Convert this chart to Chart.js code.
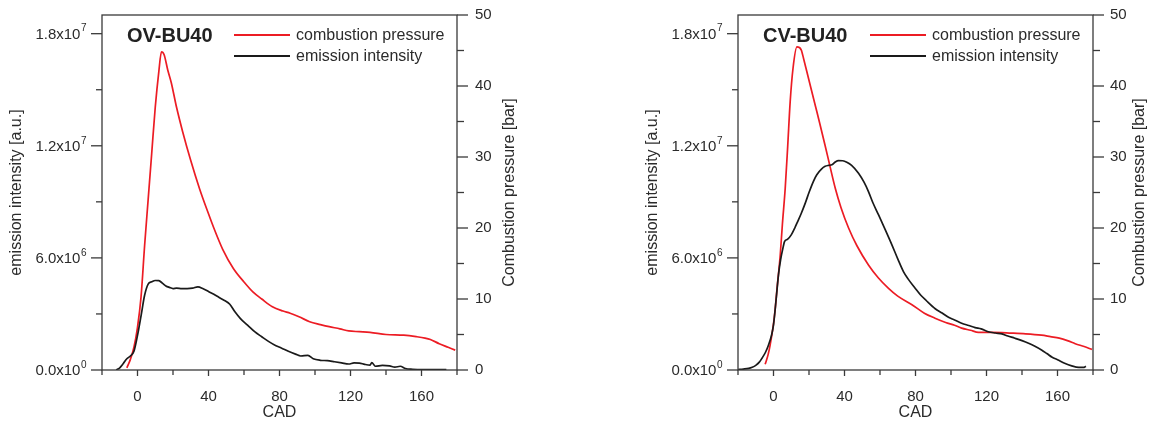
<!DOCTYPE html>
<html><head><meta charset="utf-8">
<script src="https://cdn.jsdelivr.net/npm/chart.js@4.4.1/dist/chart.umd.min.js"></script>
<style>
html,body{margin:0;padding:0;background:#fff;}
#wrap{position:relative;width:1156px;height:421px;overflow:hidden;background:#fff;}
#c1{position:absolute;left:0;top:0;}
#c2{position:absolute;left:636px;top:0;}
</style></head><body>
<div id="wrap"><canvas id="c1" width="578" height="421"></canvas><canvas id="c2" width="520" height="421"></canvas></div>
<script>
// ---------- data ----------
const chartTitles = ['OV-BU40', 'CV-BU40'];
const seriesNames = ['combustion pressure', 'emission intensity'];
const xTickValues = [-20, 0, 20, 40, 60, 80, 100, 120, 140, 160, 180];
const xLabelTicks = [0, 40, 80, 120, 160];
const leftTickValues = [0, 3e6, 6e6, 9e6, 1.2e7, 1.5e7, 1.8e7];
const leftLabelTicks = [0, 6e6, 1.2e7, 1.8e7];
const rightTickValues = [0, 5, 10, 15, 20, 25, 30, 35, 40, 45, 50];
const rightLabelTicks = [0, 10, 20, 30, 40, 50];

// OV-BU40 combustion pressure [bar]
const ovPressureCad = [-6,-4,-2,0,2,4,6,8,10,12,13.5,15,17,19,22,25.4,30,35,40,43,48,54,60,65,70,76,82,86,91,97,103,108,114,119,125,131,140,150,157,162,165,170,175,179];
const ovPressureBar = [0.3,1.5,3.2,6.0,10.3,17.5,24,30.5,37,42,44.8,44.4,42.3,40.5,37,33.6,29.5,25.5,22,20,17,14.3,12.4,11.0,10.0,8.9,8.3,8.0,7.5,6.8,6.4,6.1,5.8,5.5,5.4,5.3,5.0,4.9,4.7,4.5,4.3,3.7,3.2,2.8];
// OV-BU40 emission intensity [a.u.]
const ovEmissionCad = [-12,-10,-8,-6,-4,-2,0,2,4,6,8,10,12,14,16,18,20,22,25,28,31,34,37,40,43,46,49,52,55,58,62,66,70,74,78,81,85,89,92,96,99,103,107,111,115,119,122,125,128,131,132,134,138,142,145,148,151,155,160,174];
const ovEmission = [0,1.2e5,3.5e5,6.0e5,7.5e5,1.0e6,1.85e6,2.9e6,4.0e6,4.6e6,4.72e6,4.79e6,4.78e6,4.65e6,4.5e6,4.42e6,4.36e6,4.38e6,4.36e6,4.36e6,4.38e6,4.45e6,4.35e6,4.2e6,4.05e6,3.88e6,3.72e6,3.52e6,3.1e6,2.75e6,2.4e6,2.05e6,1.78e6,1.52e6,1.3e6,1.18e6,1.0e6,8.5e5,7.5e5,7.8e5,6.0e5,5.2e5,5.0e5,4.4e5,3.8e5,3.2e5,3.8e5,3.7e5,3.0e5,2.6e5,4.0e5,2.0e5,2.5e5,2.2e5,1.5e5,2.0e5,8e4,4e4,2e4,2e4];

// CV-BU40 combustion pressure [bar]
const cvPressureCad = [-4.7,-3,-1.9,0,1,2,3.8,5,6.6,8,9.4,11,13.2,15.6,17,18.8,21,23.5,26,29,32,34.8,38,42.3,47,53.5,59,64.8,70,78,85,91,97,102,106,111,115.5,123,134,142,151,156,161,166,170,175,179.4];
const cvPressureBar = [0.8,2.2,3.5,6.5,8.7,11.5,16.2,20.5,25.6,31.5,37.8,42.5,45.5,45.1,43.8,42,39.8,37.3,34.8,31.7,28.5,25.6,22.9,20,17.5,14.8,13,11.5,10.4,9.2,8.0,7.3,6.7,6.3,5.9,5.6,5.3,5.3,5.2,5.1,4.9,4.7,4.5,4.1,3.7,3.3,2.9];
// CV-BU40 emission intensity [a.u.]
const cvEmissionCad = [-20,-17,-14,-12,-10,-8,-6.5,-4.5,-2.8,-1,0,1.5,2.8,4,5.5,6.2,8,10,12,13.2,15.5,17.9,20,22.5,24.4,27,29.1,31,32.9,35,36.6,39,41.3,44,47.9,51,53.5,56,59.2,63,66.7,70,73.2,76,79.8,83,86,91.1,95,98.6,102,106,110,113.6,117,121,125,128.7,132,136,140,143.7,147,151,154,157,160,164,168,172,175,176];
const cvEmission = [2e4,5e4,9e4,1.5e5,2.5e5,4.2e5,6.3e5,9.5e5,1.34e6,1.9e6,2.41e6,3.8e6,5.09e6,5.9e6,6.6e6,6.87e6,7.0e6,7.23e6,7.6e6,7.86e6,8.35e6,8.93e6,9.5e6,1.01e7,1.045e7,1.075e7,1.09e7,1.095e7,1.098e7,1.115e7,1.121e7,1.12e7,1.112e7,1.095e7,1.053e7,1.005e7,9.55e6,8.95e6,8.3e6,7.5e6,6.7e6,5.95e6,5.27e6,4.85e6,4.38e6,4.0e6,3.72e6,3.28e6,3.05e6,2.82e6,2.68e6,2.5e6,2.38e6,2.27e6,2.2e6,2.05e6,1.98e6,1.93e6,1.82e6,1.7e6,1.57e6,1.43e6,1.28e6,1.07e6,8.8e5,6.8e5,5.5e5,3.6e5,2.2e5,1.4e5,1.4e5,2.0e5];

// ---------- styling ----------
const FONT = "'Liberation Sans', Arial, Helvetica, sans-serif";
const RED = '#ec1c24';
const BLACK = '#1a1a1a';
const AXIS = '#3a3a3a';
const TXT = '#2b2b2b';

function pts(xs, ys) { return xs.map((x, i) => ({x: x, y: ys[i]})); }
function fixTicks(values) { return s => { s.ticks = values.map(v => ({value: v})); }; }

const decor = {
  id: 'decor',
  afterDraw(chart, args, o) {
    const ctx = chart.ctx, a = chart.chartArea;
    const xs = chart.scales.x, ys = chart.scales.y, y1 = chart.scales.y1;
    const line = (x1, y1_, x2, y2) => { ctx.beginPath(); ctx.moveTo(x1, y1_); ctx.lineTo(x2, y2); ctx.stroke(); };
    ctx.save();
    ctx.strokeStyle = AXIS; ctx.lineWidth = 1.3;
    ctx.strokeRect(a.left, a.top, a.right - a.left, a.bottom - a.top);
    ctx.fillStyle = TXT;
    // x axis ticks
    ctx.font = '15px ' + FONT; ctx.textAlign = 'center'; ctx.textBaseline = 'middle';
    xs.ticks.forEach(t => {
      const px = xs.getPixelForValue(t.value);
      const major = xLabelTicks.includes(t.value);
      line(px, a.bottom, px, a.bottom + (major ? 6 : 5));
      if (major) ctx.fillText(String(t.value), px, a.bottom + 27);
    });
    // left y axis ticks with superscript labels
    ys.ticks.forEach(t => {
      const py = ys.getPixelForValue(t.value);
      const major = leftLabelTicks.some(v => Math.abs(v - t.value) < 1);
      line(a.left - (major ? 11 : 6), py, a.left, py);
      if (major) {
        const v = t.value;
        const e = v === 0 ? 0 : Math.floor(Math.log10(v) + 1e-9);
        const m = (v / Math.pow(10, e)).toFixed(1);
        const main = m + 'x10', sup = String(e);
        ctx.font = '15px ' + FONT; const wm = ctx.measureText(main).width;
        ctx.font = '10px ' + FONT; const ws = ctx.measureText(sup).width;
        const x0 = a.left - 16 - wm - ws;
        ctx.textAlign = 'left'; ctx.textBaseline = 'middle';
        ctx.font = '15px ' + FONT; ctx.fillText(main, x0, py + 1);
        ctx.font = '10px ' + FONT; ctx.fillText(sup, x0 + wm + 0.5, py - 5);
      }
    });
    // right y axis ticks
    ctx.font = '15px ' + FONT; ctx.textAlign = 'left'; ctx.textBaseline = 'middle';
    y1.ticks.forEach(t => {
      const py = y1.getPixelForValue(t.value);
      const major = rightLabelTicks.includes(t.value);
      line(a.right, py, a.right + (major ? 11 : 7), py);
      if (major) ctx.fillText(String(t.value), a.right + o.labelGap, py);
    });
    // right axis title (reads bottom to top)
    ctx.save();
    ctx.translate(a.right + o.titleOffset, (a.top + a.bottom) / 2);
    ctx.rotate(-Math.PI / 2);
    ctx.font = '16px ' + FONT; ctx.textAlign = 'center'; ctx.textBaseline = 'middle';
    ctx.fillText(y1.options.title.text, 0, 0);
    ctx.restore();
    // chart title
    ctx.font = 'bold 20px ' + FONT; ctx.fillStyle = '#222'; ctx.textAlign = 'left'; ctx.textBaseline = 'middle';
    ctx.fillText(o.title, a.left + 25, a.top + 21);
    // legend
    ctx.font = '16px ' + FONT; ctx.fillStyle = TXT;
    const lx = a.left + 132;
    chart.data.datasets.forEach((ds, i) => {
      const ly = a.top + 20 + i * 21;
      ctx.strokeStyle = ds.borderColor; ctx.lineWidth = 1.8;
      line(lx, ly, lx + 56, ly);
      ctx.fillText(ds.label, lx + 62, ly + 1);
    });
    ctx.restore();
  }
};

function makeChart(id, title, pc, pv, ec, ev, rightWidth, titleOffset, labelGap) {
  return new Chart(document.getElementById(id), {
    type: 'line',
    data: {
      datasets: [
        {label: seriesNames[0], data: pts(pc, pv), yAxisID: 'y1', borderColor: RED, borderWidth: 1.7, pointRadius: 0, cubicInterpolationMode: 'monotone', order: 2},
        {label: seriesNames[1], data: pts(ec, ev), yAxisID: 'y', borderColor: BLACK, borderWidth: 1.7, pointRadius: 0, cubicInterpolationMode: 'monotone', order: 1}
      ]
    },
    options: {
      responsive: false, animation: false, devicePixelRatio: 1,
      layout: {padding: {top: 15, left: 0, right: 0, bottom: 0}},
      plugins: {legend: {display: false}, tooltip: {enabled: false},
        decor: {title: title, titleOffset: titleOffset, labelGap: labelGap}},
      scales: {
        x: {type: 'linear', min: -20, max: 180,
          ticks: {display: false}, grid: {display: false}, border: {display: false},
          afterBuildTicks: fixTicks(xTickValues),
          title: {display: true, text: 'CAD', color: TXT, font: {family: FONT, size: 16, lineHeight: 1}, padding: {top: 0, bottom: 0}},
          afterFit: s => { s.height = 51; }},
        y: {type: 'linear', position: 'left', min: 0, max: 1.9e7,
          ticks: {display: false}, grid: {display: false}, border: {display: false},
          afterBuildTicks: fixTicks(leftTickValues),
          title: {display: true, text: 'emission intensity [a.u.]', color: TXT, font: {family: FONT, size: 16, lineHeight: 1.2}, padding: {top: 7, bottom: 0}},
          afterFit: s => { s.width = 102; }},
        y1: {type: 'linear', position: 'right', min: 0, max: 50,
          ticks: {display: false}, grid: {display: false}, border: {display: false},
          afterBuildTicks: fixTicks(rightTickValues),
          title: {display: false, text: 'Combustion pressure [bar]'},
          afterFit: s => { s.width = rightWidth; }}
      }
    },
    plugins: [decor]
  });
}

makeChart('c1', chartTitles[0], ovPressureCad, ovPressureBar, ovEmissionCad, ovEmission, 121, 53, 18);
makeChart('c2', chartTitles[1], cvPressureCad, cvPressureBar, cvEmissionCad, cvEmission, 63, 47, 17);
</script>
</body></html>
